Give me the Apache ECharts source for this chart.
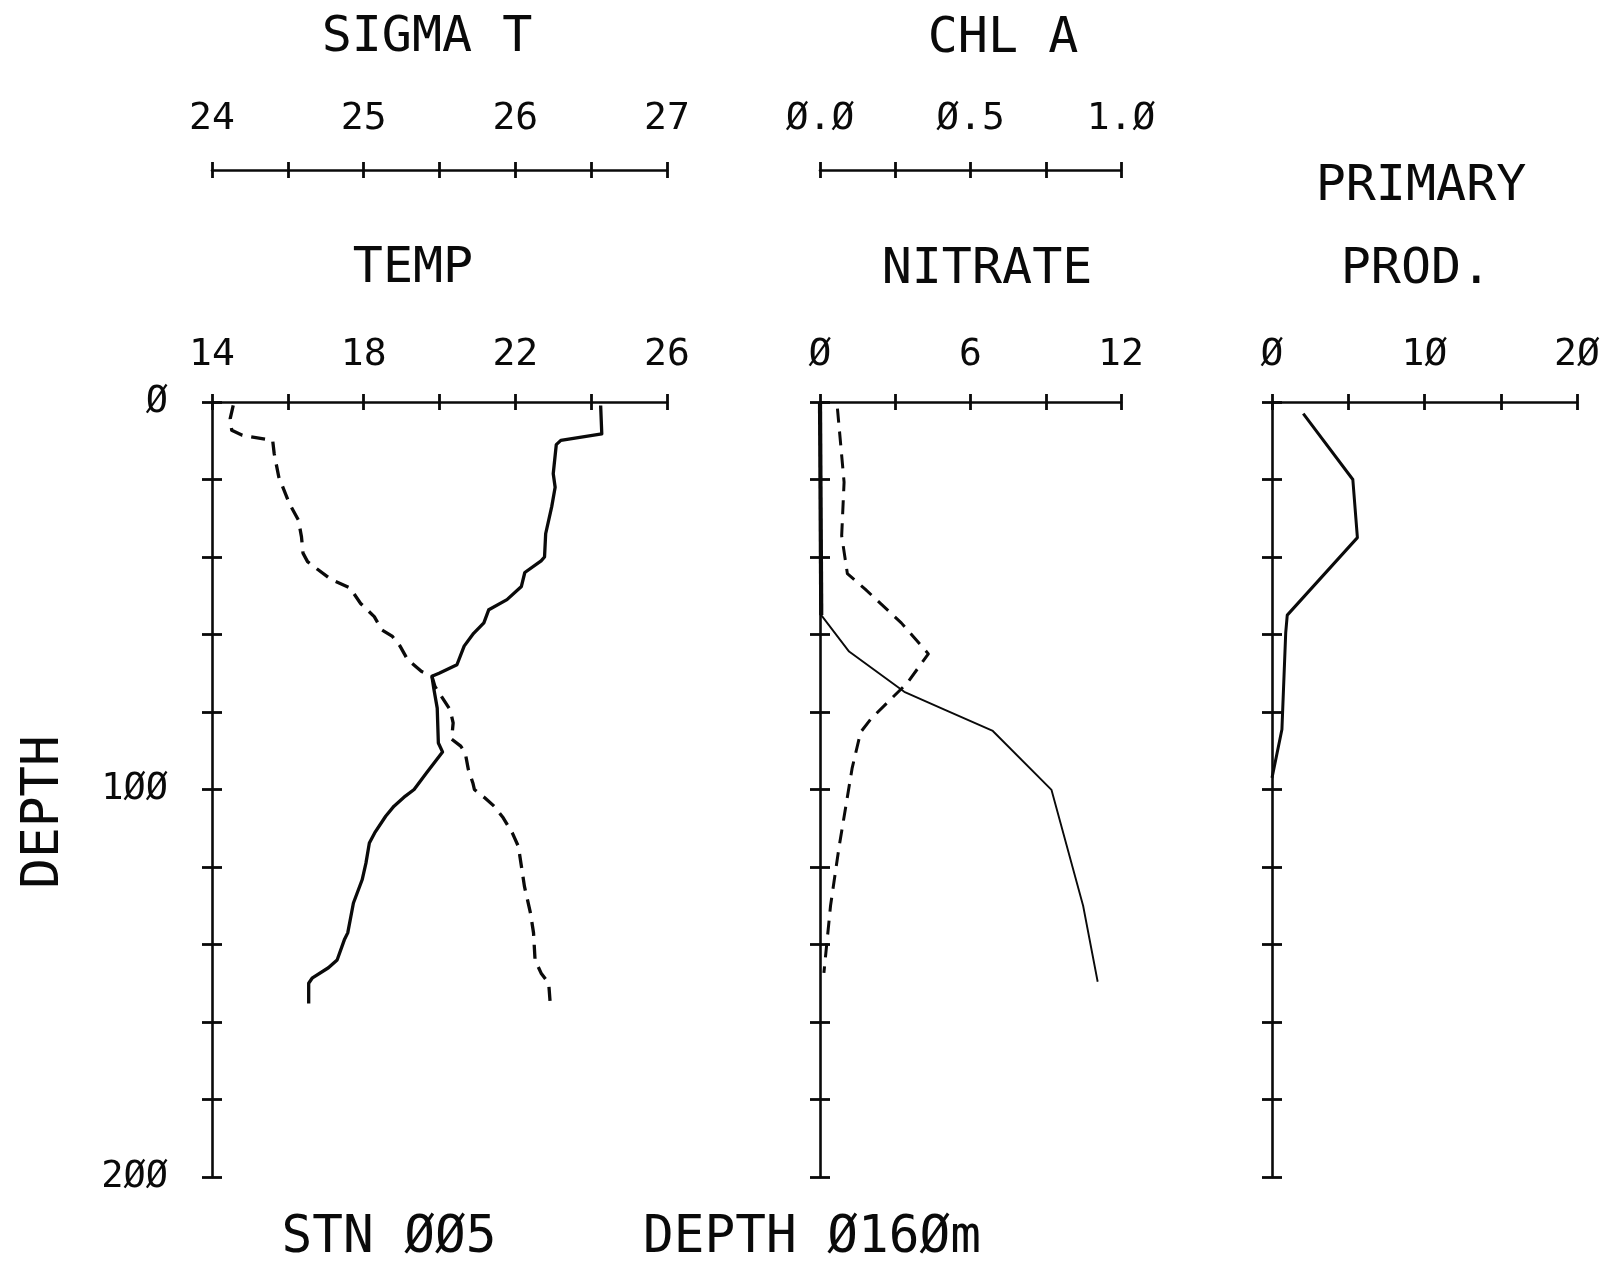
<!DOCTYPE html>
<html>
<head>
<meta charset="utf-8">
<script src="https://cdn.jsdelivr.net/npm/echarts@6/dist/echarts.min.js"></script>
<style>
html,body{margin:0;padding:0;background:#ffffff;}
#chart{width:1619px;height:1265px;}
</style>
</head>
<body>
<div id="chart"></div>
<script>
// ---------------- DATA ----------------
// Temperature profile (solid, panel 1)
const tempDepth  = [0.9, 8.2, 9.9, 11, 18.5, 22, 27, 34, 40, 41, 44, 47.6, 51, 53.6, 57, 59.7, 63, 67.8, 70, 70.8, 74, 79, 88, 90.3, 95.7, 100, 101.7, 104.3, 106.9, 111.2, 113.8, 119, 123.3, 129.3, 137, 138.8, 144, 146, 148.7, 150, 155.2];
const tempValues = [24.25, 24.28, 23.2, 23.08, 23.0, 23.05, 22.96, 22.8, 22.77, 22.68, 22.25, 22.16, 21.78, 21.3, 21.17, 20.9, 20.65, 20.46, 19.99, 19.8, 19.85, 19.94, 19.97, 20.08, 19.66, 19.33, 19.1, 18.8, 18.58, 18.29, 18.15, 18.06, 17.96, 17.73, 17.58, 17.49, 17.3, 17.07, 16.64, 16.55, 16.55];
// Sigma-t profile (dashed, panel 1)
const sigmaDepth  = [0.9, 4.3, 7.3, 8.6, 9.9, 13.3, 19.3, 26.2, 30.5, 34.8, 39, 41.2, 43.3, 45.9, 48, 52, 55.4, 58.8, 60.5, 63, 66.5, 69.5, 70.8, 73.4, 79.4, 82.8, 87, 88.8, 90.6, 94.8, 98.3, 100, 102.2, 104.3, 107.3, 111.2, 114.7, 119.8, 125, 131.9, 137, 144, 147.4, 150, 155.2];
const sigmaValues = [24.14, 24.12, 24.13, 24.2, 24.4, 24.41, 24.44, 24.51, 24.57, 24.59, 24.6, 24.63, 24.7, 24.79, 24.91, 24.98, 25.07, 25.12, 25.19, 25.24, 25.29, 25.38, 25.45, 25.47, 25.57, 25.59, 25.58, 25.64, 25.67, 25.69, 25.72, 25.73, 25.8, 25.86, 25.92, 25.98, 26.02, 26.04, 26.06, 26.1, 26.12, 26.13, 26.17, 26.22, 26.23];
// Nitrate profile (solid, panel 2)
const nitrateDepth  = [0, 55, 64.4, 74.8, 79.4, 84.9, 100.1, 130, 149.6];
const nitrateValues = [0, 0.05, 1.16, 3.36, 4.96, 6.89, 9.23, 10.49, 11.07];
// Chlorophyll a profile (dashed, panel 2)
const chlDepth  = [1.7, 20.7, 34.5, 44.3, 48.3, 57, 65, 72.5, 81.7, 85.2, 94.4, 104.7, 115, 130, 147.3];
const chlValues = [0.058, 0.08, 0.072, 0.091, 0.15, 0.27, 0.36, 0.29, 0.17, 0.135, 0.107, 0.085, 0.063, 0.035, 0.013];
// Primary production profile (solid, panel 3)
const ppDepth  = [3, 20, 35, 55, 59.5, 84.5, 97];
const ppValues = [2.05, 5.3, 5.6, 1.0, 0.9, 0.65, 0];

// Tick labels
const depthLabels   = [0, 100, 200];
const tempLabels    = [14, 18, 22, 26];
const sigmaLabels   = [24, 25, 26, 27];
const nitrateLabels = [0, 6, 12];
const chlLabels     = [0.0, 0.5, 1.0];
const ppLabels      = [0, 10, 20];

// Texts
const titleSigma = 'SIGMA T';
const titleChl = 'CHL A';
const titleTemp = 'TEMP';
const titleNitrate = 'NITRATE';
const titlePP1 = 'PRIMARY';
const titlePP2 = 'PROD.';
const depthName = 'DEPTH';
const stationText = 'STN ØØ5';
const bottomDepthText = 'DEPTH Ø16Øm';

// ---------------- HELPERS ----------------
const FONT = "'DejaVu Sans Mono', 'Liberation Mono', monospace";
const INK = '#0a0a0a';
const slash = s => String(s).replace(/0/g, 'Ø');
function labelFmt(list, digits) {
  return function (v) {
    for (const l of list) {
      if (Math.abs(l - v) < 1e-9) return slash(digits != null ? Number(v).toFixed(digits) : String(l));
    }
    return '';
  };
}
const zip = (xs, ds) => xs.map((x, i) => [x, ds[i]]);

const gridTop = 402, gridH = 775;
const upperOffset = 232;
const TICK = 8;
const AXW = 2.6, TKW = 2.8;

function xPair(gridIndex, min, max, interval, labels, digits, offset, margin) {
  const base = {
    type: 'value', gridIndex, position: 'top', min, max, interval, offset: offset || 0,
    splitLine: { show: false }, silent: true
  };
  return [
    Object.assign({}, base, {
      axisLine: { show: true, onZero: false, lineStyle: { color: INK, width: AXW } },
      axisTick: { show: true, inside: false, length: TICK, lineStyle: { color: INK, width: TKW } },
      axisLabel: { show: true, margin, formatter: labelFmt(labels, digits), color: INK, fontFamily: FONT, fontSize: 38, showMinLabel: true, showMaxLabel: true }
    }),
    Object.assign({}, base, {
      axisLine: { show: false, onZero: false },
      axisTick: { show: true, inside: true, length: TICK, lineStyle: { color: INK, width: TKW } },
      axisLabel: { show: false }
    })
  ];
}
function yPair(gridIndex, showLabels) {
  const base = {
    type: 'value', gridIndex, position: 'left', inverse: true, min: 0, max: 200, interval: 20,
    splitLine: { show: false }, silent: true
  };
  return [
    Object.assign({}, base, {
      axisLine: { show: true, onZero: false, lineStyle: { color: INK, width: AXW } },
      axisTick: { show: true, inside: false, length: 10, lineStyle: { color: INK, width: TKW } },
      axisLabel: { show: showLabels, margin: 44, formatter: labelFmt(depthLabels), color: INK, fontFamily: FONT, fontSize: 37, showMinLabel: true, showMaxLabel: true }
    }),
    Object.assign({}, base, {
      axisLine: { show: false, onZero: false },
      axisTick: { show: true, inside: true, length: 10, lineStyle: { color: INK, width: TKW } },
      axisLabel: { show: false }
    })
  ];
}

const xAxes = [].concat(
  xPair(0, 14, 26, 2, tempLabels, null, 0, 28),            // 0,1
  xPair(0, 24, 27, 0.5, sigmaLabels, null, upperOffset, 32), // 2,3
  xPair(1, 0, 12, 3, nitrateLabels, null, 0, 28),          // 4,5
  xPair(1, 0, 1, 0.25, chlLabels, 1, upperOffset, 32),      // 6,7
  xPair(2, 0, 20, 5, ppLabels, null, 0, 28)                 // 8,9
);
const yAxes = [].concat(yPair(0, true), yPair(1, false), yPair(2, false));

function lineSeries(name, xi, yi, values, depths, width, dashed) {
  return {
    name, type: 'line', xAxisIndex: xi, yAxisIndex: yi,
    data: zip(values, depths), symbol: 'none', silent: true, animation: false,
    clip: false,
    lineStyle: { color: INK, width, type: dashed ? [14, 9] : 'solid', cap: 'butt', join: 'round' }
  };
}

// segment of the nitrate profile lying on zero (drawn heavier, as in the plot)
const nitrateZeroIdx = nitrateValues.map((v, i) => i).filter(i => nitrateValues[i] < 0.1);
const nitrateZeroValues = nitrateZeroIdx.map(i => nitrateValues[i]);
const nitrateZeroDepth = nitrateZeroIdx.map(i => nitrateDepth[i]);

function txt(text, x, y, size, rot) {
  return {
    type: 'text', x, y, rotation: rot || 0, silent: true,
    style: { text, fill: INK, font: size + 'px ' + FONT, align: 'center', verticalAlign: 'middle' }
  };
}

const chart = echarts.init(document.getElementById('chart'), null, { renderer: 'canvas' });
chart.setOption({
  backgroundColor: '#ffffff',
  animation: false,
  grid: [
    { left: 212, top: gridTop, width: 455, height: gridH, containLabel: false, outerBoundsMode: 'none' },
    { left: 820, top: gridTop, width: 301, height: gridH, containLabel: false, outerBoundsMode: 'none' },
    { left: 1272, top: gridTop, width: 305, height: gridH, containLabel: false, outerBoundsMode: 'none' }
  ],
  xAxis: xAxes,
  yAxis: yAxes,
  series: [
    lineSeries('Temp', 0, 0, tempValues, tempDepth, 3.3, false),
    lineSeries('Sigma T', 2, 0, sigmaValues, sigmaDepth, 3.3, true),
    lineSeries('Nitrate', 4, 2, nitrateValues, nitrateDepth, 1.9, false),
    lineSeries('Nitrate (zero)', 4, 2, nitrateZeroValues, nitrateZeroDepth, 4.2, false),
    lineSeries('Chl A', 6, 2, chlValues, chlDepth, 3.0, true),
    lineSeries('Primary Prod.', 8, 4, ppValues, ppDepth, 3.0, false)
  ],
  graphic: [
    txt(titleSigma, 427, 38, 50),
    txt(titleChl, 1003, 39, 50),
    txt(titleTemp, 413, 269, 50),
    txt(titleNitrate, 987, 270, 50),
    txt(titlePP1, 1421, 187, 50),
    txt(titlePP2, 1416, 270, 50),
    txt(depthName, 45, 812, 51, Math.PI / 2),
    txt(stationText, 389, 1239, 51),
    txt(bottomDepthText, 812, 1239, 51)
  ]
});
</script>
</body>
</html>
